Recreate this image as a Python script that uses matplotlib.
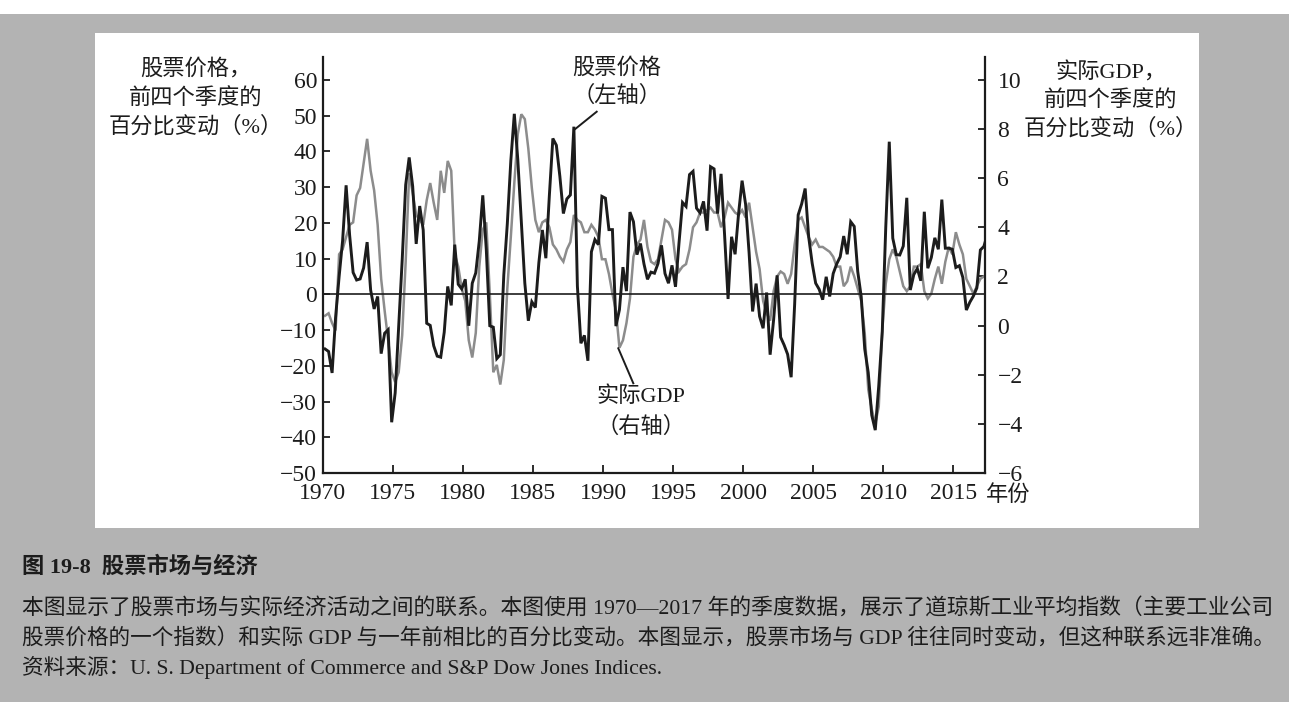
import matplotlib
matplotlib.use('Agg')
import matplotlib.pyplot as plt
from matplotlib.patches import Rectangle
from matplotlib.lines import Line2D
import numpy as np

plt.rcParams['font.family'] = ['Liberation Serif', 'Noto Sans CJK SC', 'DejaVu Sans']
plt.rcParams['axes.unicode_minus'] = True

# ---------------- data ----------------
# Stock prices (DJIA), % change over previous four quarters, quarterly from 1969Q4
stock_first_quarter = 1969.75
stock_pct = [
    -15.3,
    -16.0, -22.0, -6.4, 4.9,
    15.0, 30.5, 16.6, 6.1,
    4.0, 4.3, 7.4, 14.6,
    1.2, -4.1, -0.6, -16.6,
    -10.9, -9.9, -35.8, -27.6,
    -9.3, 9.5, 30.6, 38.3,
    30.2, 14.1, 24.7, 18.0,
    -8.1, -8.7, -14.4, -17.3,
    -17.6, -10.6, 2.2, -3.1,
    13.9, 2.8, 1.5, 4.2,
    -8.8, 3.1, 6.0, 14.9,
    27.7, 12.6, -8.8, -9.2,
    -18.0, -16.9, 5.4, 19.7,
    37.3, 50.5, 37.6, 20.2,
    3.1, -7.4, -2.1, -3.7,
    8.8, 18.0, 10.1, 27.6,
    43.6, 41.7, 33.0, 22.6,
    26.7, 27.8, 46.9, 2.3,
    -13.7, -11.5, -18.6, 11.9,
    15.3, 13.9, 27.4, 26.9,
    18.1, 18.1, -8.9, -4.3,
    7.6, 0.9, 23.0, 20.3,
    11.1, 14.2, 8.5, 4.2,
    6.2, 5.9, 8.6, 13.7,
    5.8, 3.1, 8.1, 2.1,
    14.4, 25.7, 24.6, 33.5,
    34.4, 24.1, 22.8, 26.0,
    17.8, 35.7, 35.1, 22.6,
    33.7, 16.7, -1.3, 16.1,
    11.2, 22.6, 31.8, 25.2,
    11.6, -4.8, 3.0, -6.2,
    -9.5, 0.5, -16.9, -7.1,
    5.3, -12.0, -14.2, -16.8,
    -23.2, -2.8, 22.2, 25.3,
    29.6, 16.1, 8.7, 3.1,
    1.4, -1.5, 4.9, -0.6,
    5.8, 8.5, 10.5, 16.3,
    11.2, 20.3, 19.0, 6.4,
    -0.7, -15.3, -21.9, -33.8,
    -38.0, -25.6, -10.5, 18.8,
    42.7, 15.7, 11.1, 11.0,
    13.5, 27.0, 1.2, 5.5,
    7.2, 3.8, 23.1, 7.3,
    10.3, 15.8, 12.6, 26.5,
    12.9, 12.9, 12.6, 7.5,
    8.0, 4.7, -4.4, -2.2,
    -0.5, 1.8, 12.4, 13.4,
    16.8,
]

# Real GDP, % change over previous four quarters, quarterly from 1970Q1
gdp_first_quarter = 1970.0
gdp_pct = [
    0.4, 0.5, 0.1, -0.2,
    2.9, 3.1, 3.6, 4.1,
    4.2, 5.3, 5.6, 6.6,
    7.6, 6.3, 5.5, 4.1,
    1.9, 0.6, -0.6, -1.9,
    -2.3, -1.9, -0.4, 2.6,
    6.2, 5.4, 4.5, 4.3,
    4.1, 5.1, 5.8, 5.0,
    4.3, 6.3, 5.4, 6.7,
    6.3, 2.9, 2.4, 1.5,
    1.0, -0.6, -1.3, -0.3,
    2.4, 3.9, 4.2, 1.3,
    -1.9, -1.6, -2.4, -1.4,
    1.5, 3.6, 5.8, 7.8,
    8.6, 8.4, 7.2, 5.6,
    4.3, 3.8, 4.2, 4.3,
    4.0, 3.3, 3.1, 2.8,
    2.6, 3.1, 3.4, 4.5,
    4.3, 4.2, 3.8, 3.8,
    4.1, 3.9, 3.6, 2.7,
    2.7, 2.1, 1.3, 0.6,
    -0.9, -0.6, 0.1, 1.1,
    2.8, 3.3, 3.5, 4.3,
    3.2, 2.6, 2.5, 2.7,
    3.5, 4.3, 4.2, 3.9,
    2.7, 2.2, 2.4, 2.5,
    3.1, 4.0, 4.2, 4.6,
    4.6, 4.7, 4.8, 4.6,
    4.6, 4.0, 4.4, 5.0,
    4.8, 4.6, 4.5, 4.7,
    4.4, 5.0, 4.0, 3.0,
    2.3, 1.0, 0.5, 0.2,
    1.4, 2.0, 2.2, 2.1,
    1.7, 2.1, 3.3, 4.3,
    4.4, 4.0, 3.6, 3.3,
    3.5, 3.2, 3.2, 3.1,
    3.0, 2.8, 2.4, 2.4,
    1.6, 1.8, 2.4, 2.0,
    1.5, 1.0, -0.3, -2.6,
    -3.4, -4.0, -3.3, -0.2,
    1.7, 2.7, 3.1, 2.8,
    2.2, 1.6, 1.4, 1.6,
    2.4, 2.4, 2.5, 1.4,
    1.1, 1.3, 1.9, 2.4,
    1.7, 2.6, 3.2, 2.9,
    3.8, 3.3, 2.9, 1.9,
    1.6, 1.3, 1.6, 1.9,
    2.0,
]

left_ticks = list(range(-50, 61, 10))
right_ticks = list(range(-6, 11, 2))
year_ticks = list(range(1970, 2016, 5))

left_label = ['股票价格，', '前四个季度的', '百分比变动（%）']
right_label = ['实际GDP，', '前四个季度的', '百分比变动（%）']
stock_note = ['股票价格', '（左轴）']
gdp_note = ['实际GDP', '（右轴）']
x_unit = '年份'
cap_title = '图 19-8  股票市场与经济'
cap_lines = [
    '本图显示了股票市场与实际经济活动之间的联系。本图使用 1970—2017 年的季度数据，展示了道琼斯工业平均指数（主要工业公司',
    '股票价格的一个指数）和实际 GDP 与一年前相比的百分比变动。本图显示，股票市场与 GDP 往往同时变动，但这种联系远非准确。',
]
cap_source = '资料来源：U. S. Department of Commerce and S&P Dow Jones Indices.'

# ---------------- figure ----------------
W, H = 1289, 715
fig = plt.figure(figsize=(W / 100, H / 100), dpi=100)
fig.patch.set_facecolor('white')

def fx(x):
    return x / W

def fy(y):
    return 1 - y / H

fig.patches.append(Rectangle((0, fy(702)), 1, fy(14) - fy(702), transform=fig.transFigure,
                             facecolor='#b3b3b3', edgecolor='none', zorder=-3))
fig.patches.append(Rectangle((fx(95), fy(528)), fx(1199) - fx(95), fy(33) - fy(528),
                             transform=fig.transFigure, facecolor='white', edgecolor='none', zorder=-2))

ax = fig.add_axes([fx(322.7), fy(473), fx(985) - fx(322.7), fy(57) - fy(473)])
ax2 = ax.twinx()
ax2.set_zorder(1)
ax.set_zorder(2)
ax.patch.set_visible(False)
ax2.patch.set_visible(False)

stock_x = np.arange(len(stock_pct)) * 0.25 + stock_first_quarter + 0.42
gdp_x = np.arange(len(gdp_pct)) * 0.25 + gdp_first_quarter + 0.17

ax2.plot(gdp_x, gdp_pct, color='#8c8c8c', lw=1.8, solid_joinstyle='miter')
ax.plot(stock_x, stock_pct, color='#1c1c1c', lw=2.1, solid_joinstyle='miter')
ax.axhline(0, color='#1c1c1c', lw=1.2, zorder=1)

ax.set_xlim(1970.0, 2017.25)
ax.set_ylim(-50, 66.4)
ax2.set_ylim(-6, 10.93)
ax.set_xticks(year_ticks)
ax.set_yticks(left_ticks)
ax2.set_yticks(right_ticks)

for s in ['top', 'right']:
    ax.spines[s].set_visible(False)
for s in ['top', 'left', 'bottom']:
    ax2.spines[s].set_visible(False)
for a in (ax, ax2):
    for s in a.spines.values():
        s.set_linewidth(1.6)
        s.set_color('#1c1c1c')

ax.tick_params(axis='y', direction='in', length=5, width=1.3, labelsize=17, pad=4, colors='#1c1c1c')
ax.tick_params(axis='x', direction='in', length=6, width=1.3, labelsize=17, pad=7, colors='#1c1c1c')
ax2.tick_params(axis='y', direction='in', length=5, width=1.3, labelsize=17, pad=9, colors='#1c1c1c')

def ptext(x, y, s, size=16, ha='center', va='center', **kw):
    return fig.text(fx(x), fy(y), s, fontsize=size, ha=ha, va=va, color='#1c1c1c', **kw)

for yy, s in zip([69, 99, 127], left_label):
    ptext(196, yy, s)
for yy, s in zip([73, 101, 129], right_label):
    ptext(1111, yy, s)
for yy, s in zip([68, 96], stock_note):
    ptext(617, yy, s)
for yy, s in zip([397, 427], gdp_note):
    ptext(641, yy, s)
ptext(1008, 496, x_unit)

fig.add_artist(Line2D([fx(596.7), fx(574)], [fy(111.7), fy(130)], transform=fig.transFigure,
                      color='#1c1c1c', lw=1.4))
fig.add_artist(Line2D([fx(633.3), fx(618.3)], [fy(383.3), fy(348.3)], transform=fig.transFigure,
                      color='#1c1c1c', lw=1.4))

# caption
ptext(22, 567, cap_title, size=16, ha='left', fontweight='bold')
renderer = fig.canvas.get_renderer()
for yy, s in zip([609, 638.5], cap_lines):
    t = ptext(22, yy, s, size=15, ha='left')
    w = t.get_window_extent(renderer).width
    t.set_fontsize(15 * (1256 / w))
t3 = ptext(22, 667, cap_source, size=15, ha='left')
t3.set_fontsize(t.get_fontsize())

fig.savefig('out.png', dpi=100, facecolor=fig.get_facecolor())
